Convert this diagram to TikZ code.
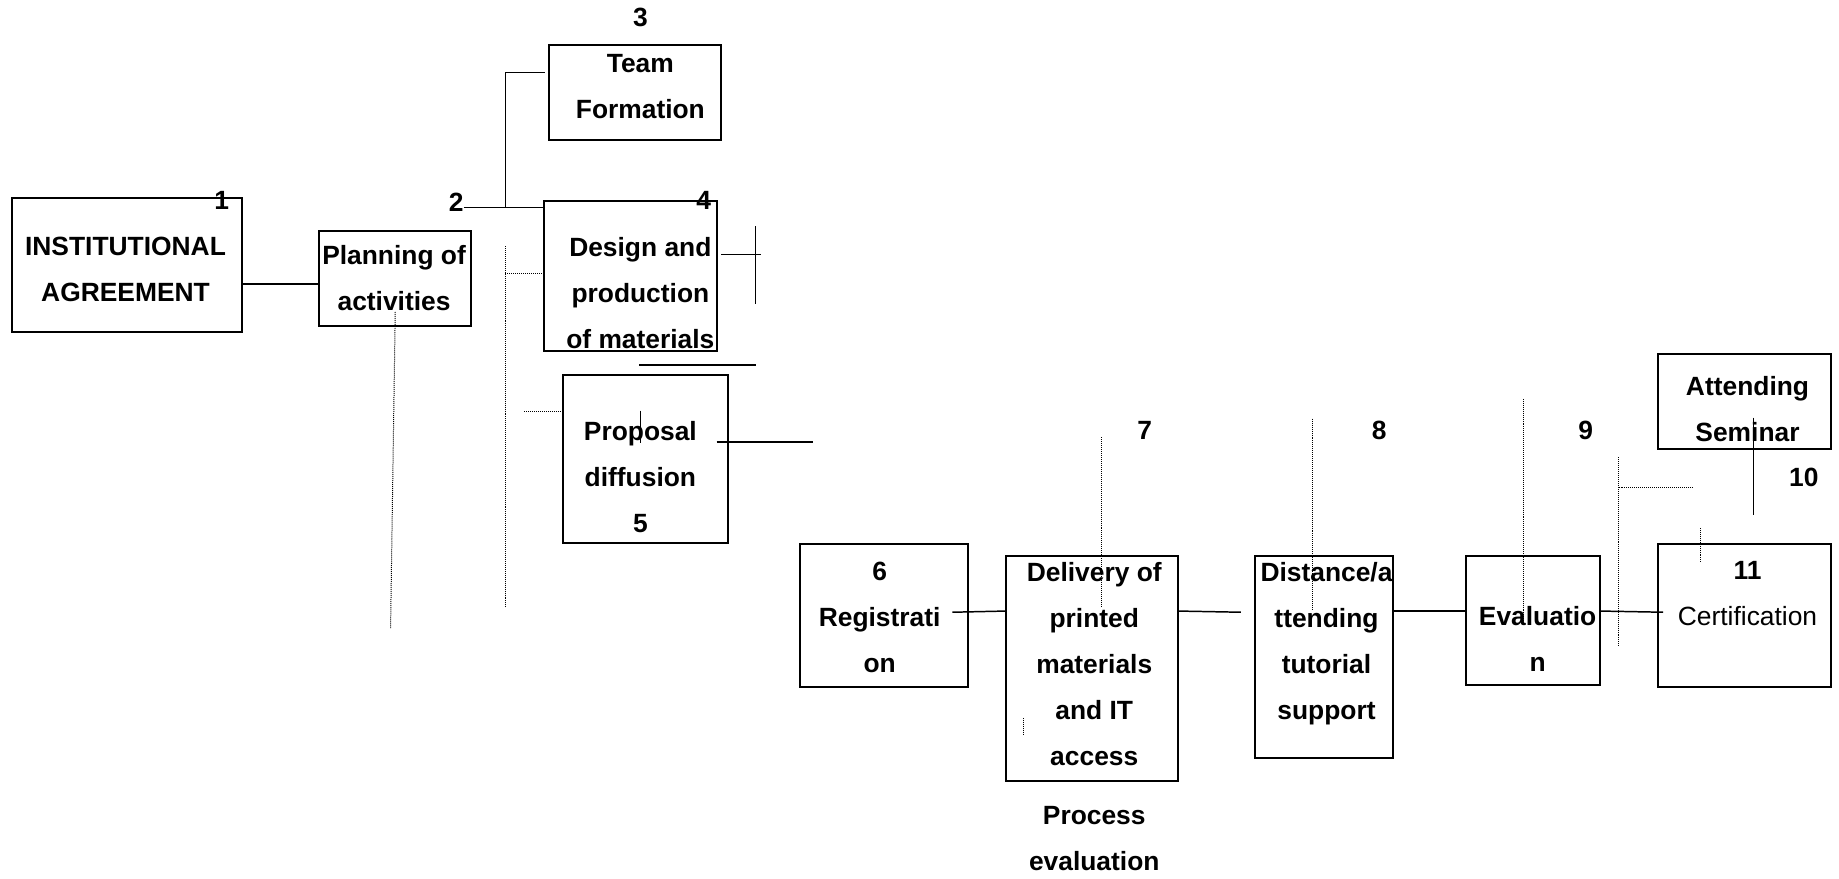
\documentclass[tikz,border=0pt]{standalone}
\usepackage{fontspec}
\setmainfont{Liberation Sans}
\usetikzlibrary{fit}

\tikzset{
  stage/.style = {draw, line width=1.2pt, inner sep=0pt},
  tag/.style = {font=\fontsize{16}{27.9}\selectfont\bfseries, align=center,
                inner sep=0pt, anchor=north},
  link/.style = {line width=0.9pt},
  trace/.style = {line width=0.6pt, dash pattern=on 0.6pt off 0.6pt},
}

\begin{document}
\begin{tikzpicture}[x=0.25mm, y=-0.25mm]
\useasboundingbox (0,0) rectangle (1568,749);

% stages
\node[stage, fit={(10,169) (206,283)}]    (agree)   {};
\node[stage, fit={(272,197) (402,278)}]   (plan)    {};
\node[stage, fit={(468,38) (615,119)}]    (team)    {};
\node[stage, fit={(464,171) (611,299)}]   (design)  {};
\node[stage, fit={(480,320) (621,463)}]   (diffuse) {};
\node[stage, fit={(682,464) (825,586)}]   (regis)   {};
\node[stage, fit={(858,474) (1004,666)}]  (deliver) {};
\node[stage, fit={(1070,474) (1188,646)}] (tutor)   {};
\node[stage, fit={(1250,474) (1364,584)}] (evalu)   {};
\node[stage, fit={(1414,302) (1561,383)}] (seminar) {};
\node[stage, fit={(1414,464) (1561,586)}] (certif)  {};

% texts
\node[tag] (n1)  at (189,163) {1};
\node[tag] (t-agree) at (107,202) {INSTITUTIONAL\\AGREEMENT};
\node[tag] (n2)  at (389,164) {2};
\node[tag] (t-plan) at (336,209) {Planning of\\activities};
\node[tag] (n3)  at (546,7) {3};
\node[tag] (t-team) at (546,46) {Team\\Formation};
\node[tag] (n4)  at (600,163) {4};
\node[tag] (t-design) at (546,202) {Design and\\production\\of materials};
\node[tag] (t-diffuse) at (546,359) {Proposal\\diffusion\\5};
\node[tag] (t-regis) at (750,479) {6\\Registrati\\on};
\node[tag] (n7)  at (976,359) {7};
\node[tag] (t-deliver) at (933,479) {Delivery of\\printed\\materials\\and IT\\access};
\node[tag] (t-process) at (933,687) {Process\\evaluation};
\node[tag] (n8)  at (1176,359) {8};
\node[tag] (t-tutor) at (1131,479) {Distance/a\\ttending\\tutorial\\support};
\node[tag] (n9)  at (1352,359) {9};
\node[tag] (t-evalu) at (1311,517) {Evaluatio\\n};
\node[tag] (t-seminar) at (1490,321) {Attending\\Seminar};
\node[tag] (n10) at (1538,399) {10};
\node[tag] (n11) at (1490,478) {11};
\node[tag, font=\fontsize{16}{27.9}\selectfont] (t-certif) at (1490,517) {Certification};

% connectors
\coordinate (lvl) at (0,242);
\coordinate (row) at (0,521);
\coordinate (fork) at (431,177);
\coordinate (c3) at (465,62);
\coordinate (c5) at (693,377);
\coordinate (c6) at (812,522);
\coordinate (c8) at (1058,522);
\coordinate (c11) at (1418,522);

\draw[link] (agree.east |- lvl) -- (plan.west |- lvl);
\draw[link] (n2.east |- fork) -- (design.west |- fork);
\draw[link] (fork) |- (c3);
\draw[link] (615,217) -- (649,217) (644,193) -- (644,259);
\draw[link] (545,311) -- (645,311);
\draw[link] (546,350) -- (546,378);
\draw[link] (611,377) -- (c5);
\draw[link] (c6) -- (deliver.west |- row);
\draw[link] (deliver.east |- row) -- (c8);
\draw[link] (tutor.east |- row) -- (evalu.west |- row);
\draw[link] (evalu.east |- row) -- (c11);
\draw[link] (1495,356) -- (1495,439);

% dotted guides
\draw[trace] (337,266) -- (333,536);
\draw[trace] (431,210) -- (431,518) (431,233) -- (464,233);
\draw[trace] (447,351) -- (478,351);
\draw[trace] (939,373) -- (939,518);
\draw[trace] (873,612) -- (873,626);
\draw[trace] (1119,357) -- (1119,519);
\draw[trace] (1299,340) -- (1299,534);
\draw[trace] (1380,390) -- (1380,551) (1380,416) -- (1443,416);
\draw[trace] (1450,450) -- (1450,480);
\end{tikzpicture}
\end{document}
